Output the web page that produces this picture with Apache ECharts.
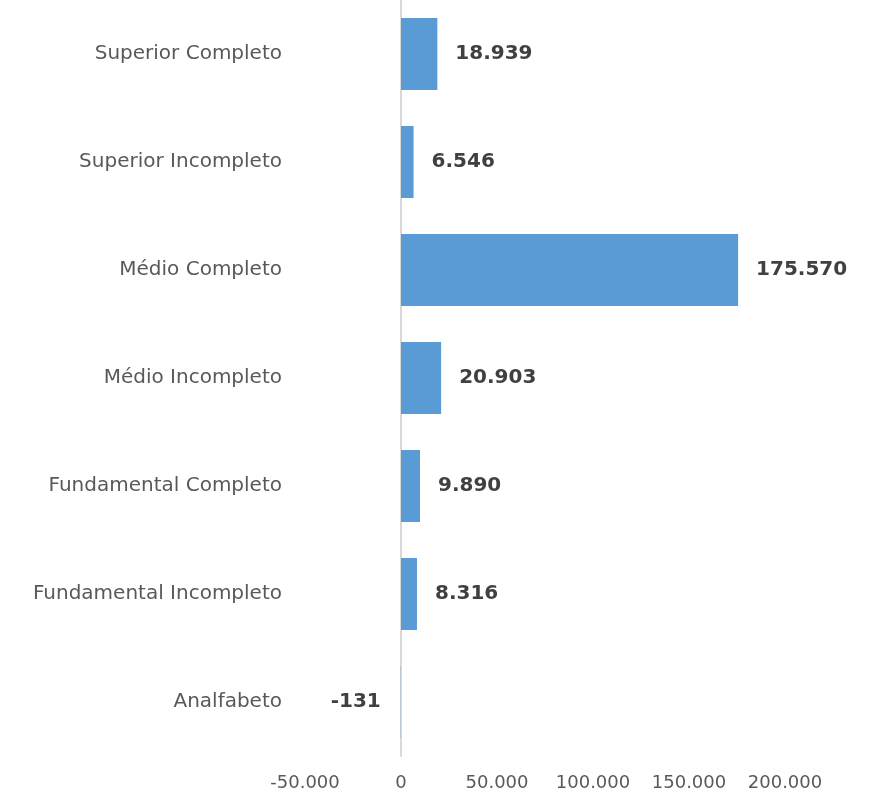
<!DOCTYPE html>
<html>
<head>
<meta charset="utf-8">
<script src="https://cdn.jsdelivr.net/npm/echarts@6/dist/echarts.min.js"></script>
<style>
  html, body { margin: 0; padding: 0; background: #fff; }
  #chart { width: 869px; height: 794px; }
</style>
</head>
<body>
<div id="chart"></div>
<script>
const categories = [
  'Superior Completo',
  'Superior Incompleto',
  'Médio Completo',
  'Médio Incompleto',
  'Fundamental Completo',
  'Fundamental Incompleto',
  'Analfabeto'
]
const values = [18939, 6546, 175570, 20903, 9890, 8316, -131]
const xTicks = [-50000, 0, 50000, 100000, 150000, 200000]

// thousands with a dot, like pt-BR
const fmt = v => {
  const s = String(Math.abs(v)).replace(/\B(?=(\d{3})+(?!\d))/g, '.')
  return (v < 0 ? '-' : '') + s
}

const chart = echarts.init(document.getElementById('chart'))
chart.setOption({
  backgroundColor: '#ffffff',
  animation: false,
  textStyle: { fontFamily: 'DejaVu Sans' },
  grid: { left: 305, right: 84, top: 0, bottom: 38, containLabel: false, outerBoundsMode: 'none' },
  xAxis: {
    type: 'value',
    min: xTicks[0],
    max: xTicks[xTicks.length - 1],
    interval: 50000,
    axisLine: { show: false },
    axisTick: { show: false },
    splitLine: { show: false },
    axisLabel: {
      color: '#595959',
      fontSize: 18,
      margin: 18,
      formatter: fmt
    }
  },
  yAxis: {
    type: 'category',
    inverse: true,
    data: categories,
    axisLine: { show: true, onZero: true, lineStyle: { color: '#d9d9d9', width: 2 } },
    axisTick: { show: false },
    axisLabel: { color: '#595959', fontSize: 20, margin: 23 }
  },
  series: [{
    type: 'bar',
    barWidth: 72,
    itemStyle: { color: '#5b9bd5' },
    label: {
      show: true,
      position: 'right',
      distance: 18,
      color: '#404040',
      fontWeight: 'bold',
      fontSize: 20,
      formatter: p => fmt(p.value)
    },
    data: values.map(v => v < 0 ? { value: v, label: { position: 'left', distance: 20 } } : v)
  }]
})
</script>
</body>
</html>
